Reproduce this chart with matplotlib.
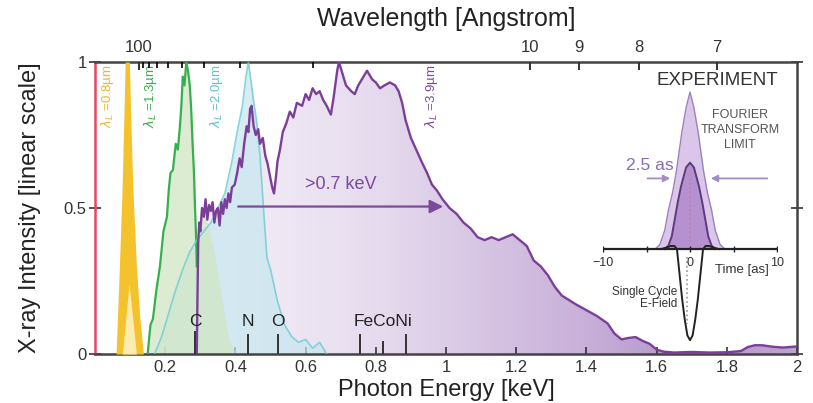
import numpy as np
import matplotlib.pyplot as plt
from matplotlib.colors import LinearSegmentedColormap
from matplotlib.patches import PathPatch

plt.rcParams["font.family"] = ["Liberation Sans", "DejaVu Sans"]

HC = 12.398  # keV * Angstrom

# --- HHG spectra for the four driver wavelengths (keV, normalised intensity) ---
yel_e = [0.06, 0.068, 0.077, 0.082, 0.086, 0.098, 0.102, 0.108, 0.118, 0.128, 0.138]
yel_i = [0.0, 0.25, 0.56, 0.80, 1.0, 1.0, 0.80, 0.56, 0.30, 0.12, 0.0]
yel_core_e = [0.078, 0.097, 0.118]
yel_core_i = [0.0, 0.24, 0.0]

grn_e = [0.150, 0.158, 0.165, 0.175, 0.185, 0.195, 0.205, 0.210, 0.215, 0.222, 0.230,
         0.236, 0.242, 0.246, 0.250, 0.255, 0.260, 0.265, 0.270, 0.274, 0.278, 0.282,
         0.285, 0.288, 0.290, 0.300, 0.320, 0.340, 0.360, 0.380, 0.400]
grn_i = [0.0, 0.10, 0.12, 0.22, 0.30, 0.42, 0.47, 0.56, 0.62, 0.63, 0.72,
         0.70, 0.78, 0.85, 0.95, 0.92, 1.0, 0.97, 0.92, 0.84, 0.72, 0.62,
         0.50, 0.40, 0.30, 0.50, 0.45, 0.35, 0.20, 0.06, 0.0]

cyn_e = [0.17, 0.19, 0.21, 0.23, 0.25, 0.27, 0.29, 0.31, 0.33, 0.35, 0.37, 0.39, 0.405,
         0.42, 0.43, 0.437, 0.445, 0.45, 0.46, 0.47, 0.48, 0.49, 0.50, 0.52, 0.54, 0.56,
         0.58, 0.60, 0.62, 0.64, 0.66]
cyn_i = [0.0, 0.06, 0.14, 0.22, 0.29, 0.35, 0.39, 0.42, 0.45, 0.50, 0.55, 0.66, 0.76,
         0.85, 0.95, 1.0, 0.93, 0.88, 0.80, 0.68, 0.50, 0.33, 0.29, 0.18, 0.10, 0.06,
         0.04, 0.05, 0.02, 0.04, 0.0]

pur_e = [0.290, 0.292, 0.294, 0.297, 0.300, 0.305, 0.310, 0.315, 0.320, 0.325, 0.330,
         0.335, 0.340, 0.345, 0.350, 0.355, 0.360, 0.365, 0.370, 0.375, 0.380, 0.385,
         0.390, 0.398, 0.405, 0.412, 0.418, 0.425, 0.432, 0.437, 0.442, 0.446, 0.452,
         0.458, 0.465, 0.470, 0.478, 0.485, 0.492, 0.500, 0.505, 0.510, 0.515, 0.520,
         0.527, 0.535, 0.545, 0.555, 0.565, 0.575, 0.590, 0.600, 0.610, 0.620, 0.630,
         0.640, 0.650, 0.660, 0.672, 0.680, 0.690, 0.695, 0.705, 0.715, 0.730, 0.740,
         0.750, 0.760, 0.775, 0.790, 0.800, 0.812, 0.825, 0.840, 0.855, 0.865, 0.875,
         0.885, 0.900, 0.915, 0.930, 0.946, 0.960, 0.974, 0.990, 1.010, 1.030, 1.050,
         1.070, 1.090, 1.110, 1.130, 1.150, 1.170, 1.190, 1.210, 1.230, 1.250, 1.270,
         1.290, 1.310, 1.330, 1.350, 1.370, 1.400, 1.430, 1.460, 1.480, 1.500, 1.520,
         1.540, 1.560, 1.580, 1.600, 1.620, 1.650, 1.700, 1.750, 1.800, 1.840, 1.860,
         1.880, 1.900, 1.930, 1.960, 2.000]
pur_i = [0.0, 0.20, 0.38, 0.45, 0.42, 0.50, 0.47, 0.53, 0.46, 0.51, 0.49,
         0.52, 0.45, 0.49, 0.50, 0.44, 0.52, 0.48, 0.53, 0.50, 0.55, 0.52,
         0.57, 0.58, 0.62, 0.67, 0.64, 0.72, 0.78, 0.76, 0.84, 0.85, 0.78,
         0.75, 0.77, 0.72, 0.74, 0.68, 0.65, 0.60, 0.57, 0.55, 0.60, 0.66,
         0.70, 0.76, 0.79, 0.83, 0.81, 0.86, 0.85, 0.89, 0.87, 0.91, 0.89,
         0.90, 0.87, 0.85, 0.82, 0.88, 0.97, 1.0, 0.96, 0.92, 0.90, 0.89,
         0.92, 0.94, 0.97, 0.94, 0.93, 0.91, 0.92, 0.93, 0.92, 0.90, 0.86,
         0.80, 0.74, 0.70, 0.66, 0.62, 0.58, 0.56, 0.53, 0.50, 0.48, 0.45,
         0.43, 0.40, 0.39, 0.40, 0.39, 0.40, 0.41, 0.39, 0.37, 0.32, 0.30,
         0.27, 0.23, 0.20, 0.185, 0.17, 0.15, 0.13, 0.105, 0.07, 0.05, 0.055,
         0.058, 0.045, 0.035, 0.015, 0.008, 0.005, 0.007, 0.005, 0.006, 0.010, 0.024,
         0.030, 0.030, 0.025, 0.022, 0.026]

driver_labels = [r"$\lambda_L$ =0.8µm", r"$\lambda_L$ =1.3µm", r"$\lambda_L$ =2.0µm", r"$\lambda_L$ =3.9µm"]
driver_label_e = [0.037, 0.157, 0.345, 0.96]

# absorption edges
edge_names = ["C", "N", "O", "Fe", "Co", "Ni"]
edge_e = [0.285, 0.435, 0.52, 0.755, 0.82, 0.885]
edge_len = [0.075, 0.065, 0.065, 0.065, 0.04, 0.065]

wl_major = [100, 10, 9, 8, 7]
wl_minor = [90, 80, 70, 60, 50, 40, 30, 20]
energy_ticks = [0.2, 0.4, 0.6, 0.8, 1.0, 1.2, 1.4, 1.6, 1.8, 2.0]
energy_labels = ["0.2", "0.4", "0.6", "0.8", "1", "1.2", "1.4", "1.6", "1.8", "2"]

# --- inset: attosecond pulse (time in as) ---
ft_t = [-4.0, -3.45, -2.9, -2.47, -2.0, -1.55, -1.25, -0.92, -0.45, 0.0,
        0.45, 0.92, 1.25, 1.55, 2.0, 2.47, 2.9, 3.45, 4.0]
ft_y = [0.0, 0.03, 0.12, 0.25, 0.36, 0.50, 0.62, 0.75, 0.90, 1.0,
        0.90, 0.75, 0.62, 0.50, 0.36, 0.25, 0.12, 0.03, 0.0]
exp_t = [-2.9, -2.5, -2.1, -1.72, -1.4, -1.03, -0.45, 0.0, 0.45, 1.03, 1.4, 1.72, 2.1, 2.5, 2.9]
exp_y = [0.0, 0.02, 0.08, 0.20, 0.30, 0.40, 0.52, 0.55, 0.52, 0.40, 0.30, 0.20, 0.08, 0.02, 0.0]
fld_t = [-3.3, -2.7, -2.2, -1.8, -1.5, -1.2, -0.9, -0.6, -0.3, 0.0,
         0.3, 0.6, 0.9, 1.2, 1.5, 1.8, 2.2, 2.7, 3.3]
fld_y = [0.0, 0.01, 0.02, 0.02, 0.0, -0.16, -0.32, -0.45, -0.55, -0.58,
         -0.55, -0.45, -0.32, -0.16, 0.0, 0.02, 0.02, 0.01, 0.0]
fwhm_as = 2.5

W, H = 813, 403
fig = plt.figure(figsize=(W / 100, H / 100), dpi=100)
ax = fig.add_axes([95 / W, 1 - 354 / H, 702 / W, 292 / H])
ax.set_xlim(0, 2)
ax.set_ylim(0, 1)

# purple spectrum with a left-to-right shaded fill
pur_poly = ax.fill_between(pur_e, 0, pur_i, facecolor="none", edgecolor="none")
clip = PathPatch(pur_poly.get_paths()[0], transform=ax.transData, facecolor="none", edgecolor="none")
ax.add_patch(clip)
shade = LinearSegmentedColormap.from_list(
    "shade", [(0.0, "#f6f2f9"), (0.3, "#e6dbee"), (0.65, "#c8afd9"), (0.8, "#b698cb"), (1.0, "#bda3d0")])
grad = np.linspace(0, 1, 256).reshape(1, -1)
im = ax.imshow(grad, extent=(0.29, 2.0, 0, 1), aspect="auto", cmap=shade, zorder=1, origin="lower")
im.set_clip_path(clip)

ax.fill_between(cyn_e, 0, cyn_i, color="#c6e6ef", alpha=0.7, lw=0, zorder=2)
ax.fill_between(grn_e, 0, grn_i, color="#cfe6c4", alpha=0.75, lw=0, zorder=2)
ax.fill_between(yel_e, 0, yel_i, color="#f3c22c", lw=0, zorder=3)
ax.fill_between(yel_core_e, 0, yel_core_i, color="#fcecb0", lw=0, zorder=3)

n_grn = grn_e.index(0.290) + 1
ax.plot(grn_e[:n_grn], grn_i[:n_grn], color="#35b04c", lw=1.6, zorder=4)
ax.plot(cyn_e, cyn_i, color="#6ccbd4", lw=1.2, alpha=0.8, zorder=4)
ax.plot(pur_e, pur_i, color="#7b3f99", lw=1.7, zorder=5)

# rotated driver labels
drv_colors = ["#ecb928", "#3aac4c", "#5fc3cc", "#7b4a9b"]
for lab, e, c in zip(driver_labels, driver_label_e, drv_colors):
    ax.text(e, 0.99, lab, rotation=90, ha="center", va="top", fontsize=9.5, color=c, zorder=6)

# absorption edge markers
for name, e, h in zip(edge_names, edge_e, edge_len):
    ax.plot([e, e], [0, h], color="#333333", lw=1.4, zorder=6)
for name, e in zip(edge_names[:3], edge_e[:3]):
    ax.text(e, 0.085, name, ha="center", va="bottom", fontsize=12.5, color="#222222", zorder=6)
ax.text(np.mean(edge_e[3:]), 0.085, "".join(edge_names[3:]), ha="center", va="bottom",
        fontsize=12.5, color="#222222", zorder=6)

# cutoff arrow
ax.annotate("", xy=(1.0, 0.505), xytext=(0.4, 0.505),
            arrowprops=dict(arrowstyle="-|>", color="#7b4a9b", lw=1.6, mutation_scale=20), zorder=6)
ax.text(0.7, 0.55, ">0.7 keV", ha="center", va="bottom", fontsize=13, color="#7b4a9b", zorder=6)

# axes styling
ax.set_xticks(energy_ticks)
ax.set_xticklabels(energy_labels)
ax.set_yticks([0, 0.5, 1])
ax.set_yticklabels(["0", "0.5", "1"])
ax.tick_params(axis="x", direction="in", length=5, width=1.2, labelsize=12, pad=4, colors="#333333")
ax.tick_params(axis="y", direction="inout", length=8, width=1.2, labelsize=12, pad=2, right=True,
               colors="#333333")
ax.set_xlabel("Photon Energy [keV]", fontsize=17, color="#222222", labelpad=3.5)
ax.set_ylabel("X-ray Intensity [linear scale]", fontsize=17, color="#222222", labelpad=16)
for side in ["bottom", "top", "right"]:
    ax.spines[side].set_color("#444444")
    ax.spines[side].set_linewidth(1.8)
ax.spines["left"].set_color("#e34860")
ax.spines["left"].set_linewidth(1.8)

# wavelength axis on top
top = ax.twiny()
top.set_xlim(ax.get_xlim())
top.set_xticks([HC / w for w in wl_major])
top.set_xticklabels([str(w) for w in wl_major])
top.set_xticks([HC / w for w in wl_minor], minor=True)
top.tick_params(axis="x", which="major", direction="in", length=6, width=1.4, labelsize=12, pad=5,
                colors="#333333")
top.tick_params(axis="x", which="minor", direction="in", length=4, width=1.2)
top.set_xlabel("Wavelength [Angstrom]", fontsize=18, color="#222222", labelpad=10)
for sp in top.spines.values():
    sp.set_visible(False)

# inset: attosecond pulse in time domain
ins = fig.add_axes([603 / W, 1 - 345 / H, 174 / W, 260 / H])
ins.set_xlim(-10, 10)
ins.set_ylim(-0.611, 1.045)
ins.axis("off")
ins.fill_between(ft_t, 0, ft_y, color="#d9c6e8", lw=0)
ins.plot(ft_t, ft_y, color="#9c80c2", lw=1.0)
ins.fill_between(exp_t, 0, exp_y, color="#b592cf", lw=0)
ins.plot(exp_t, exp_y, color="#5b3a7c", lw=1.4)
ins.plot([0, 0], [0.48, 0.03], color="#d07aa8", lw=1.2, ls=":")
ins.plot([-0.3, -0.3], [-0.05, -0.48], color="#9a90a0", lw=1.2, ls=":")
ins.plot(fld_t, fld_y, color="#222222", lw=1.4)
ins.plot([-10, 10], [0, 0], color="#222222", lw=1.6)
ins.plot([-10, -5, 0, 5, 10], [0, 0, 0, 0, 0], ls="none", marker="|", ms=4, color="#222222")
ins.text(-10, -0.05, "\u221210", ha="center", va="top", fontsize=9, color="#333333")
ins.text(0, -0.05, "0", ha="center", va="top", fontsize=9, color="#333333")
ins.text(10, -0.05, "10", ha="center", va="top", fontsize=9, color="#333333")
ins.text(6.0, -0.134, "Time [as]", ha="center", va="center", fontsize=9.5, color="#333333")
ins.text(-1.5, -0.31, "Single Cycle\nE-Field", ha="right", va="center", fontsize=8.5,
         color="#333333", linespacing=1.05)
ins.text(3.1, 1.076, "EXPERIMENT", ha="center", va="center", fontsize=13.5, color="#333333",
         clip_on=False)
ins.text(5.75, 0.758, "FOURIER\nTRANSFORM\nLIMIT", ha="center", va="center", fontsize=9,
         color="#555555", linespacing=1.3)
ins.annotate("", xy=(-1.95, 0.45), xytext=(-5.2, 0.45),
             arrowprops=dict(arrowstyle="-|>", color="#a48cc6", lw=1.3, mutation_scale=10))
ins.annotate("", xy=(2.07, 0.45), xytext=(9.2, 0.45),
             arrowprops=dict(arrowstyle="-|>", color="#a48cc6", lw=1.3, mutation_scale=10))
ins.text(-4.6, 0.53, f"{fwhm_as} as", ha="center", va="center", fontsize=12.5, color="#8a6bb5")

fig.savefig("out.png", dpi=100)
